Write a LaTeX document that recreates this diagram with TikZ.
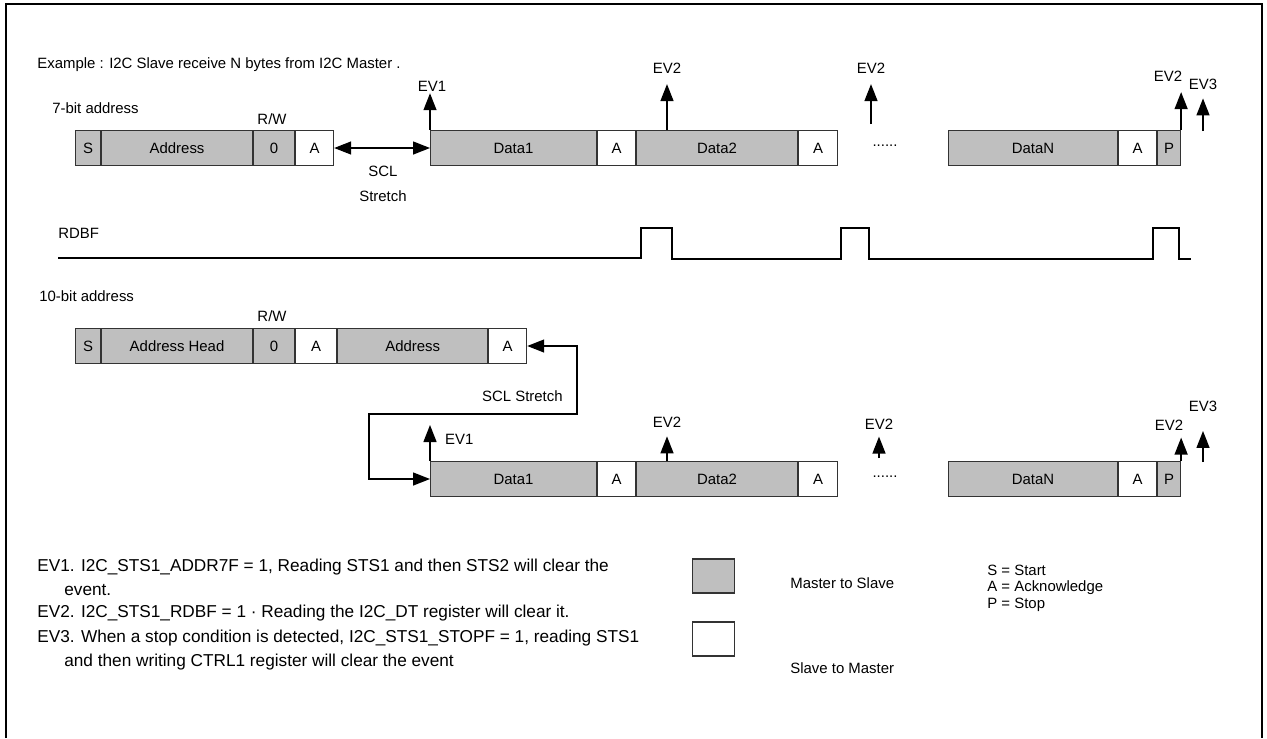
\documentclass[tikz,border=0pt]{standalone}
\usepackage{fontspec}
\setmainfont{Liberation Sans}
\usetikzlibrary{arrows.meta,positioning}
\newcommand\dfont{\fontsize{8.5pt}{10pt}\selectfont}
\newcommand\lfont{\fontsize{9.8pt}{13.6pt}\selectfont}

\begin{document}
\begin{tikzpicture}[
    x=0.02cm, y=-0.02cm,
    m2s/.style={draw=black!80, line width=0.6pt, fill=gray!50, anchor=west,
                inner sep=0pt, minimum height=0.7cm, font=\dfont},
    s2m/.style={m2s, fill=white},
    txt/.style={font=\dfont, inner sep=0pt},
    evlbl/.style={font=\dfont, inner sep=1pt},
    ev/.style={-{Triangle[length=0.34cm, width=0.26cm]}, line width=0.8pt},
    stretch/.style={{Triangle[length=0.34cm, width=0.26cm]}-{Triangle[length=0.34cm, width=0.26cm]},
                    line width=0.8pt},
    wave/.style={line width=0.9pt}
  ]
  \useasboundingbox (0,0) rectangle (1267,738);
  \draw[line width=1.2pt] (6,738) -- (6,4) -- (1262,4) -- (1262,738);

  \node[txt, anchor=west] (title) at (37,65) {Example : I2C Slave receive N bytes from I2C Master .};

  % 7-bit address
  \node[txt, anchor=west] (hda) at (52,108) {7-bit address};
  \node[txt] (rwla) at (272,119) {R/W};
  \node[m2s, minimum width=0.50cm] (sa) at (75,148) {S};
  \node[m2s, minimum width=3.02cm, right=0pt of sa] (adra) {Address};
  \node[m2s, minimum width=0.82cm, right=0pt of adra] (rwa) {0};
  \node[s2m, minimum width=0.76cm, right=0pt of rwa] (acka) {A};
  \node[m2s, minimum width=3.32cm] (d1a) at (430,148) {Data1};
  \node[s2m, minimum width=0.76cm, right=0pt of d1a] (a1a) {A};
  \node[m2s, minimum width=3.22cm, right=0pt of a1a] (d2a) {Data2};
  \node[s2m, minimum width=0.78cm, right=0pt of d2a] (a2a) {A};
  \node[txt] (dota) at (885,146) {......};
  \node[m2s, minimum width=3.38cm] (dna) at (948,148) {DataN};
  \node[s2m, minimum width=0.76cm, right=0pt of dna] (ana) {A};
  \node[m2s, minimum width=0.46cm, right=0pt of ana] (pa) {P};

  \draw[stretch] (acka.east) -- (d1a.west);
  \node[txt, align=center] (scla) at (383,184) {SCL\\[4pt]Stretch};

  \node[evlbl] (e1a) at (432,86) {EV1};
  \node[evlbl] (e2a) at (667,68) {EV2};
  \node[evlbl] (e3a) at (871,68) {EV2};
  \node[evlbl] (e4a) at (1168,76) {EV2};
  \node[evlbl] (e5a) at (1203,84) {EV3};
  \coordinate (fa) at (871,124);
  \coordinate (ga) at (1203,131);
  \draw[ev] (d1a.north west) -- (d1a.north west |- e1a.south);
  \draw[ev, shorten >=5pt] (e2a |- d2a.north) -- (e2a);
  \draw[ev, shorten >=5pt] (fa) -- (e3a);
  \draw[ev, shorten >=5pt] (pa.north east) -- (pa.north east |- e4a.south);
  \draw[ev, shorten >=4pt] (ga) -- (e5a);

  % RDBF
  \node[txt, anchor=west] (rdbf) at (58,233) {RDBF};
  \draw[wave] (58,258) -- (641,258) -- (641,228) -- (672,228) -- (672,259)
    -- (841,259) -- (841,228) -- (869,228) -- (869,259) -- (1153,259)
    -- (1153,228) -- (1179,228) -- (1179,259) -- (1191,259);

  % 10-bit address
  \node[txt, anchor=west] (hdb) at (39,296) {10-bit address};
  \node[txt] (rwlb) at (272,316) {R/W};
  \node[m2s, minimum width=0.50cm] (sb) at (75,346) {S};
  \node[m2s, minimum width=3.02cm, right=0pt of sb] (hdrb) {Address Head};
  \node[m2s, minimum width=0.82cm, right=0pt of hdrb] (rwb) {0};
  \node[s2m, minimum width=0.82cm, right=0pt of rwb] (ackb) {A};
  \node[m2s, minimum width=3.00cm, right=0pt of ackb] (adrb) {Address};
  \node[s2m, minimum width=0.76cm, right=0pt of adrb] (ack2b) {A};

  \node[m2s, minimum width=3.32cm] (d1b) at (430,479) {Data1};
  \node[s2m, minimum width=0.76cm, right=0pt of d1b] (a1b) {A};
  \node[m2s, minimum width=3.22cm, right=0pt of a1b] (d2b) {Data2};
  \node[s2m, minimum width=0.78cm, right=0pt of d2b] (a2b) {A};
  \node[txt] (dotb) at (885,477) {......};
  \node[m2s, minimum width=3.38cm] (dnb) at (948,479) {DataN};
  \node[s2m, minimum width=0.76cm, right=0pt of dnb] (anb) {A};
  \node[m2s, minimum width=0.46cm, right=0pt of anb] (pb) {P};

  \coordinate (bendr) at (577,414);
  \coordinate (bendl) at (369,414);
  \draw[stretch] (ack2b.east) -| (bendr) -- (bendl) |- (d1b.west);
  \node[txt, anchor=east] (sclb) at (563,396) {SCL Stretch};

  \node[evlbl, anchor=west] (e1b) at (443,439) {EV1};
  \node[evlbl] (e2b) at (667,422) {EV2};
  \node[evlbl] (e3b) at (879,424) {EV2};
  \node[evlbl] (e4b) at (1169,425) {EV2};
  \node[evlbl] (e5b) at (1203,406) {EV3};
  \coordinate (tb) at (430,425);
  \coordinate (fb) at (879,458);
  \coordinate (gb) at (1203,462);
  \draw[ev] (d1b.north west) -- (tb);
  \draw[ev, shorten >=4pt] (e2b |- d2b.north) -- (e2b);
  \draw[ev, shorten >=3pt] (fb) -- (e3b);
  \draw[ev, shorten >=3pt] (pb.north east) -- (pb.north east |- e4b.south);
  \draw[ev, shorten >=10pt] (gb) -- (e5b);

  % legend
  \node[txt, anchor=west, align=left, font=\lfont] (n1) at (37,577)
    {EV1. I2C\_STS1\_ADDR7F = 1, Reading STS1 and then STS2 will clear the\\\hspace*{0.54cm}event.};
  \node[txt, anchor=west, font=\lfont] (n2) at (37,613)
    {EV2. I2C\_STS1\_RDBF = 1 · Reading the I2C\_DT register will clear it.};
  \node[txt, anchor=west, align=left, font=\lfont] (n3) at (37,650)
    {EV3. When a stop condition is detected, I2C\_STS1\_STOPF = 1, reading STS1\\\hspace*{0.54cm}and then writing CTRL1 register will clear the event};

  \node[m2s, minimum width=0.84cm, minimum height=0.68cm] (kg) at (692,576) {};
  \node[s2m, minimum width=0.84cm, minimum height=0.68cm] (kw) at (692,639) {};
  \node[txt, anchor=west] (kgt) at (790,583) {Master to Slave};
  \node[txt, anchor=west] (kwt) at (790,668) {Slave to Master};
  \node[txt, anchor=north west, align=left, font=\fontsize{8.5pt}{9.2pt}\selectfont] (abbr) at (987,565)
    {S = Start\\A = Acknowledge\\P = Stop};
\end{tikzpicture}
\end{document}
